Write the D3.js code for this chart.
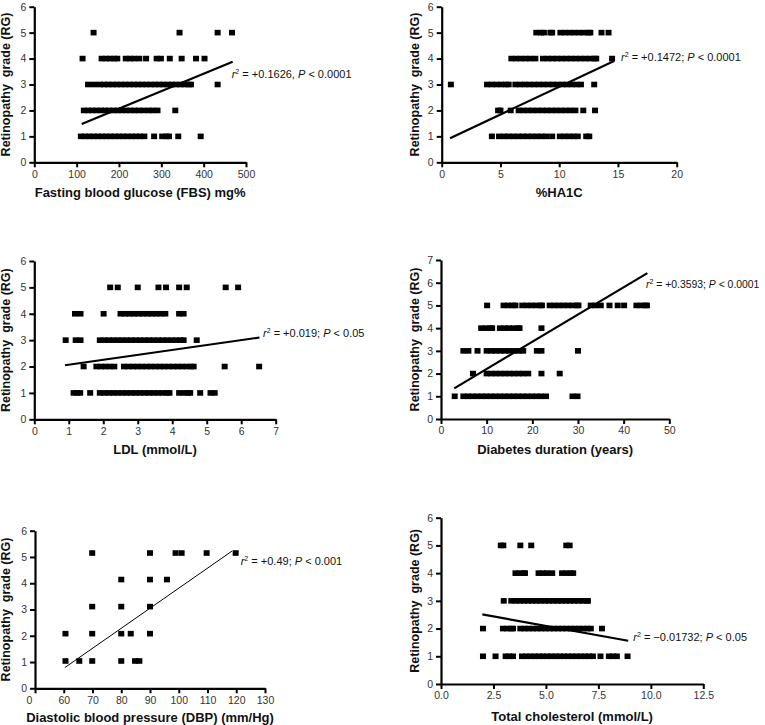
<!DOCTYPE html>
<html><head><meta charset="utf-8">
<script src="https://cdn.jsdelivr.net/npm/d3@7"></script>
<style>
body{margin:0;background:#fff;}
svg{display:block;font-family:"Liberation Sans",Arial,sans-serif;}
</style></head><body>
<svg id="c" width="765" height="725"></svg>
<script>
// ---------- DATA (x values of points, grouped by retinopathy grade 1..5) ----------
const grades = [1, 2, 3, 4, 5];
const yTicks6 = [0, 1, 2, 3, 4, 5, 6];
const yTicks7 = [0, 1, 2, 3, 4, 5, 6, 7];

// FBS (mg%)
const fbsG1 = [110,120,130,140,150,160,170,180,190,200,210,220,230,240,250,260,283,302,312,318,340,393];
const fbsG2 = [117,127,137,147,157,167,177,187,197,207,217,227,237,247,258,270,280,291,333];
const fbsG3 = [127,141,155,165,175,185,195,205,215,225,235,245,255,265,275,285,295,305,315,325,335,345,355,365,370,433];
const fbsG4 = [114,159,169,179,189,196,216,226,236,248,264,289,299,320,348,382,402];
const fbsG5 = [140,343,433,467];
const fbsTicks = [0,100,200,300,400,500];
const fbsFit = [[112,1.48],[468.5,3.88]];

// %HA1C
const hbaG1 = [4.27,4.88,5.3,5.7,6.1,6.5,6.9,7.3,7.7,8.1,8.5,8.9,9.4,10.05,10.45,10.85,11.25,11.58,12.3,12.56];
const hbaG2 = [4.8,5.0,5.87,6.55,6.95,7.35,7.75,8.15,8.55,8.95,9.35,9.75,10.15,10.55,10.95,11.38,12.05,13.05];
const hbaG3 = [0.78,3.86,4.26,4.66,5.06,5.46,5.7,6.27,6.67,7.07,7.47,7.87,8.27,8.67,9.07,9.47,9.87,10.27,10.67,11.07,11.47,11.85,12.98];
const hbaG4 = [5.93,6.33,6.73,7.13,7.53,7.97,8.62,9.02,9.42,9.82,10.22,10.62,11.02,11.42,11.82,12.22,12.62,13.02,13.15,14.5];
const hbaG5 = [8.05,8.45,8.7,9.25,9.4,10.1,10.5,10.9,11.3,11.7,12.1,12.5,12.65,13.6,14.2];
const hbaTicks = [0,5,10,15,20];
const hbaFit = [[0.71,0.93],[14.67,3.91]];

// LDL (mmol/L)
const ldlG1 = [1.14,1.24,1.33,1.62,1.9,2.03,2.16,2.29,2.42,2.55,2.68,2.81,2.94,3.07,3.2,3.33,3.46,3.59,3.72,3.85,3.92,4.2,4.33,4.45,4.52,4.81,5.11,5.23];
const ldlG2 = [1.43,1.8,1.93,2.06,2.19,2.32,2.6,2.73,2.86,2.99,3.12,3.25,3.38,3.51,3.64,3.77,3.9,4.03,4.16,4.29,4.42,4.55,4.62,5.52,6.52];
const ldlG3 = [0.91,1.2,1.34,1.9,2.03,2.16,2.29,2.42,2.55,2.68,2.81,2.94,3.07,3.2,3.33,3.46,3.59,3.72,3.85,3.98,4.11,4.24,4.33,4.71];
const ldlG4 = [1.18,1.34,2.01,2.5,2.63,2.76,2.89,3.02,3.15,3.28,3.41,3.54,3.67,3.8,4.2,4.33];
const ldlG5 = [2.2,2.42,3.0,3.6,3.82,4.2,4.42,5.55,5.91];
const ldlTicks = [0,1,2,3,4,5,6,7];
const ldlFit = [[0.89,2.05],[6.53,3.1]];

// Diabetes duration (years)
const durG1 = [3.0,4.9,5.9,6.9,7.9,8.9,9.9,10.9,11.9,12.9,13.9,14.9,15.9,16.9,17.9,18.9,19.9,20.9,21.9,23.0,28.8,29.9];
const durG2 = [7.0,10,11,12,13,14,15,16,17,18,19.1,22,26];
const durG3 = [4.9,6.0,8.0,10,11,12,13,14,15,16,17,18,21,22,30];
const durG4 = [8.8,9.8,10.8,11.2,12.9,13.9,14.9,15.9,16.9,17.2,22];
const durG5 = [10.1,13.7,14.7,15.7,16.3,17.8,18.8,19.8,20.8,21.8,22.1,23.8,24.8,25.8,26.8,27.8,28.8,29.8,30.1,32.8,33.8,35.0,36.9,38.7,40.1,42.8,43.8,44.8,45.1];
const durTicks = [0,10,20,30,40,50];
const durFit = [[2.9,1.35],[45.2,6.42]];

// Diastolic blood pressure (mm/Hg)
const dbpG1 = [60.6,65.4,69.9,80.0,84.8,86.3];
const dbpG2 = [60.6,69.9,80.0,83.3,90.0];
const dbpG3 = [69.9,80.0,90.0];
const dbpG4 = [80.0,90.0,95.9];
const dbpG5 = [69.9,90.0,98.9,101.0,109.7,119.8];
const dbpGradeY = [1.04,2.08,3.11,4.14,5.15];
const dbpTicks = [50,60,70,80,90,100,110,120,130];
const dbpTickLabels = ["0","60","70","80","90","100","110","120","130"];
const dbpFit = [[60.4,0.79],[118.6,5.23]];

// Total cholesterol (mmol/L)
const tcG1 = [2.0,2.6,3.08,3.25,3.43,3.86,4.06,4.26,4.46,4.66,4.86,5.06,5.26,5.46,5.66,5.86,6.06,6.26,6.46,6.66,6.86,7.06,7.24,7.6,8.0,8.2,8.38,8.89];
const tcG2 = [2.0,2.95,3.15,3.35,3.43,3.78,3.98,4.18,4.38,4.58,4.78,4.98,5.18,5.38,5.58,5.78,5.98,6.18,6.38,6.58,6.78,6.98,7.14,7.67];
const tcG3 = [2.99,3.35,3.55,3.75,3.95,4.15,4.35,4.55,4.75,4.95,5.15,5.35,5.55,5.75,5.95,6.15,6.35,6.55,6.75,6.95,7.0];
const tcG4 = [3.55,3.75,3.95,4.0,4.65,4.85,5.05,5.3,5.77,5.97,6.17,6.3];
const tcG5 = [2.85,2.97,3.78,4.3,5.97,6.13];
const tcTicks = [0,2.5,5,7.5,10,12.5];
const tcFit = [[1.97,2.51],[8.92,1.56]];

// ---------- PANELS ----------
const panels = [
  {groups:[fbsG1,fbsG2,fbsG3,fbsG4,fbsG5], gy:grades, xd:[0,500], xt:fbsTicks, fmt:d3.format("d"), yMax:6, yt:yTicks6,
   x0:34.3, x1:246, yT:6.7, yB:162.3, fit:fbsFit, lw:2.2, title:"Fasting blood glucose (FBS) mg%", titleY:197, ylabX:6,
   ann:{x:231.7,y:78,r:"+0.1626",sep:", ",p:"0.0001",fs:11}},
  {groups:[hbaG1,hbaG2,hbaG3,hbaG4,hbaG5], gy:grades, xd:[0,20], xt:hbaTicks, fmt:d3.format("d"), yMax:6, yt:yTicks6,
   x0:441.7, x1:676.7, yT:6.7, yB:162.3, fit:hbaFit, lw:2.2, title:"%HA1C", titleY:197, ylabX:415,
   ann:{x:621,y:61,r:"+0.1472",sep:"; ",p:"0.0001",fs:11}},
  {groups:[ldlG1,ldlG2,ldlG3,ldlG4,ldlG5], gy:grades, xd:[0,7], xt:ldlTicks, fmt:d3.format("d"), yMax:6, yt:yTicks6,
   x0:34.3, x1:275.7, yT:261, yB:419.3, fit:ldlFit, lw:2.2, title:"LDL (mmol/L)", titleY:454, ylabX:6,
   ann:{x:263,y:337,r:"+0.019",sep:"; ",p:"0.05",fs:11}},
  {groups:[durG1,durG2,durG3,durG4,durG5], gy:grades, xd:[0,50], xt:durTicks, fmt:d3.format("d"), yMax:7, yt:yTicks7,
   x0:441, x1:669.3, yT:260, yB:419, fit:durFit, lw:2.2, title:"Diabetes duration (years)", titleY:454, ylabX:415,
   ann:{x:646,y:288,r:"+0.3593",sep:"; ",p:"0.0001",fs:10.4}},
  {groups:[dbpG1,dbpG2,dbpG3,dbpG4,dbpG5], gy:dbpGradeY, xd:[50,130], xt:dbpTicks, fmt:(d,i)=>dbpTickLabels[i], yMax:6, yt:yTicks6,
   x0:35, x1:265, yT:530.7, yB:688.3, fit:dbpFit, lw:1, title:"Diastolic blood pressure (DBP) (mm/Hg)", titleY:722, ylabX:6,
   ann:{x:240.7,y:565,r:"+0.49",sep:"; ",p:"0.001",fs:11}},
  {groups:[tcG1,tcG2,tcG3,tcG4,tcG5], gy:grades, xd:[0,12.5], xt:tcTicks, fmt:d3.format(".1f"), yMax:6, yt:yTicks6,
   x0:441, x1:703.3, yT:517.7, yB:684, fit:tcFit, lw:2.2, title:"Total cholesterol (mmol/L)", titleY:721, ylabX:415,
   ann:{x:633.3,y:641,r:"\u22120.01732",sep:"; ",p:"0.05",fs:11}}
];

const svg = d3.select("#c");
const SW = 6, SH = 5.6;

panels.forEach((P, pi) => {
  const x = d3.scaleLinear().domain(P.xd).range([P.x0, P.x1]);
  const y = d3.scaleLinear().domain([0, P.yMax]).range([P.yB, P.yT]);
  const g = svg.append("g");

  // axes
  const xa = g.append("g").attr("transform", `translate(0,${P.yB})`)
    .call(d3.axisBottom(x).tickValues(P.xt).tickFormat(P.fmt).tickSize(5).tickSizeOuter(0).tickPadding(3));
  const ya = g.append("g").attr("transform", `translate(${P.x0},0)`)
    .call(d3.axisLeft(y).tickValues(P.yt).tickFormat(d3.format("d")).tickSize(5).tickSizeOuter(0).tickPadding(3));
  [xa, ya].forEach(a => {
    a.select(".domain").attr("stroke", "#000").attr("stroke-width", 2.2);
    a.selectAll(".tick line").attr("stroke", "#000").attr("stroke-width", 2);
    a.selectAll(".tick text").attr("font-size", 10.5).attr("fill", "#333");
  });
  if (pi === 4) {
    // origin label of the broken DBP axis sits left of the axis
    xa.selectAll(".tick text").filter((d, i) => i === 0).attr("dx", -6);
  }

  // points
  P.groups.forEach((xs, gi) => {
    g.selectAll(null).data(xs).enter().append("rect")
      .attr("x", d => x(d) - SW / 2)
      .attr("y", y(P.gy[gi]) - SH / 2)
      .attr("width", SW).attr("height", SH)
      .attr("fill", "#000");
  });

  // regression line
  g.append("line")
    .attr("x1", x(P.fit[0][0])).attr("y1", y(P.fit[0][1]))
    .attr("x2", x(P.fit[1][0])).attr("y2", y(P.fit[1][1]))
    .attr("stroke", "#000").attr("stroke-width", P.lw);

  // annotation
  const t = g.append("text").attr("x", P.ann.x).attr("y", P.ann.y)
    .attr("font-size", P.ann.fs).attr("fill", "#111").style("white-space", "pre");
  t.append("tspan").attr("font-style", "italic").text("r");
  t.append("tspan").attr("font-size", 7).attr("dy", -4).text("2");
  t.append("tspan").attr("dy", 4).text(" = " + P.ann.r + P.ann.sep);
  t.append("tspan").attr("font-style", "italic").text("P");
  t.append("tspan").text(" < " + P.ann.p);

  // axis titles
  g.append("text").attr("x", (P.x0 + P.x1) / 2).attr("y", P.titleY)
    .attr("text-anchor", "middle").attr("font-weight", "bold").attr("font-size", 13)
    .attr("fill", "#111").text(P.title);
  g.append("text")
    .attr("transform", `translate(${P.ylabX},${(P.yT + P.yB) / 2}) rotate(-90)`)
    .attr("text-anchor", "middle").attr("dy", "0.35em")
    .attr("font-weight", "bold").attr("font-size", 12.5).attr("fill", "#111")
    .style("white-space", "pre").text("Retinopathy  grade (RG)");
});
</script>
</body></html>
